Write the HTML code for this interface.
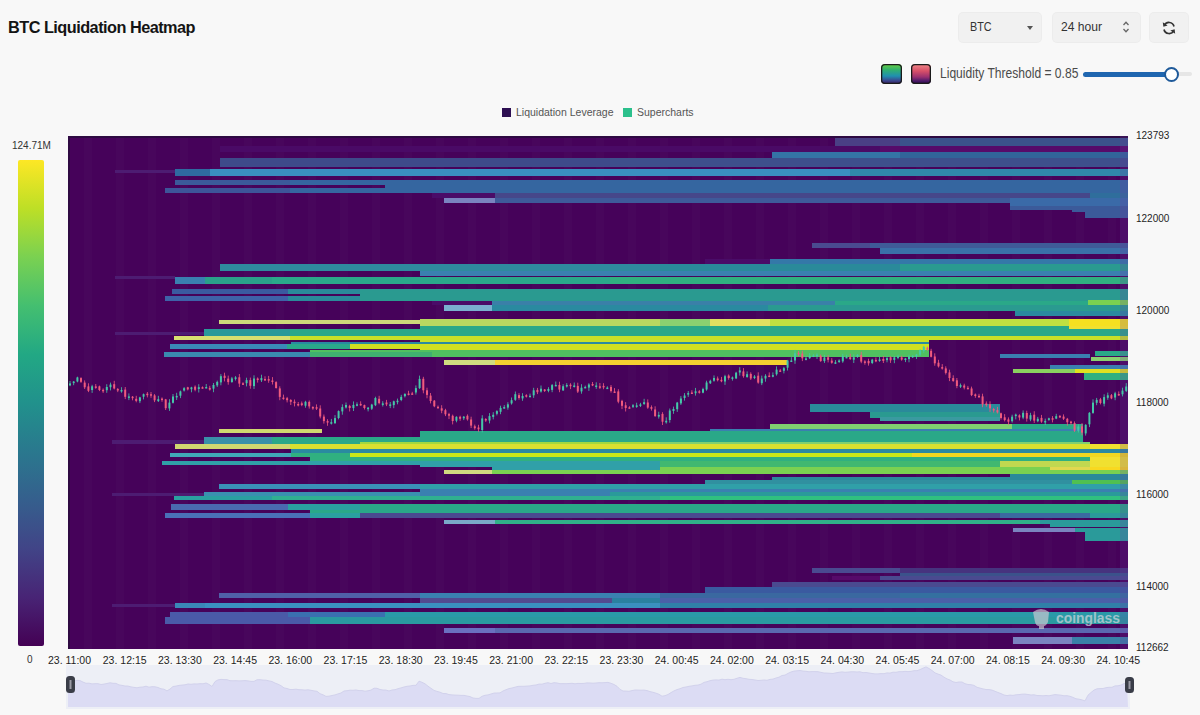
<!DOCTYPE html>
<html><head><meta charset="utf-8">
<style>
html,body{margin:0;padding:0;}
body{width:1200px;height:715px;background:#f8f8f8;position:relative;overflow:hidden;font-family:"Liberation Sans",sans-serif;}
.abs{position:absolute;}
.title{left:8px;top:17.6px;font-size:16.3px;font-weight:bold;color:#141414;letter-spacing:-0.52px;white-space:nowrap;}
.btn{background:#f1f1f1;border-radius:4px;box-shadow:0 0 0 1px #ececec;}
.btxt{font-size:13px;color:#333;top:8px;}
.ylab{font-size:10px;color:#1e1e1e;left:1136px;line-height:12px;}
.xlab{font-size:10.5px;color:#1e1e1e;top:654px;white-space:nowrap;width:80px;margin-left:-40px;text-align:center;}
</style></head><body>
<div class="abs title">BTC Liquidation Heatmap</div>
<div class="abs btn" style="left:959px;top:13px;width:82px;height:29px;"><span class="abs btxt" style="left:11px;top:5.5px;font-size:13.5px;transform:scaleX(0.8);transform-origin:0 0;">BTC</span><span class="abs" style="left:68px;top:13px;width:0;height:0;border-left:3.5px solid transparent;border-right:3.5px solid transparent;border-top:4px solid #555;"></span></div>
<div class="abs btn" style="left:1053px;top:13px;width:87px;height:29px;"><span class="abs btxt" style="left:8px;top:5.8px;font-size:13.3px;transform:scaleX(0.91);transform-origin:0 0;">24 hour</span>
<svg class="abs" style="left:68px;top:6.5px" width="10" height="14" viewBox="0 0 10 14"><path d="M2.5 5 L5 2.3 L7.5 5 M2.5 9 L5 11.7 L7.5 9" fill="none" stroke="#666" stroke-width="1.3"/></svg></div>
<div class="abs btn" style="left:1150px;top:13px;width:38px;height:29px;">
<svg class="abs" style="left:11px;top:7px" width="16" height="16" viewBox="0 0 16 16"><path d="M13 6.5 A5.2 5.2 0 0 0 3.2 5.5" fill="none" stroke="#333" stroke-width="1.7"/><path d="M3 9.5 A5.2 5.2 0 0 0 12.8 10.5" fill="none" stroke="#333" stroke-width="1.7"/><path d="M1.8 2.3 L2.4 6.8 L6.6 5.4 Z" fill="#333"/><path d="M14.2 13.7 L13.6 9.2 L9.4 10.6 Z" fill="#333"/></svg></div>
<div class="abs" style="left:881px;top:64px;width:21px;height:20px;border-radius:4px;background:linear-gradient(#6ad040,#30b070 30%,#2090b0 60%,#3a4a90 82%,#3a1a5a);box-shadow:0 0 0 1.3px #1a1a1a inset;"></div>
<div class="abs" style="left:911px;top:64px;width:20px;height:20px;border-radius:4px;background:linear-gradient(#f08a8a,#d85068 35%,#9a3070 65%,#4a1a6a 85%,#2a0a40);box-shadow:0 0 0 1.3px #1a1a1a inset;"></div>
<div class="abs" style="left:940px;top:65.5px;font-size:13.8px;color:#4a4a4a;transform:scaleX(0.875);transform-origin:0 0;white-space:nowrap;">Liquidity Threshold = 0.85</div>
<div class="abs" style="left:1173px;top:72px;width:19px;height:4px;border-radius:2px;background:#e6e6e6;"></div>
<div class="abs" style="left:1083px;top:72px;width:90px;height:5px;border-radius:3px;background:#1f66b0;"></div>
<div class="abs" style="left:1164px;top:67px;width:11px;height:11px;border-radius:50%;background:#fff;border:2px solid #1f5a9a;"></div>
<div class="abs" style="left:502px;top:108px;width:9px;height:9px;background:#2d0f52;"></div>
<div class="abs" style="left:516px;top:106px;font-size:10.5px;color:#555;">Liquidation Leverage</div>
<div class="abs" style="left:623px;top:108px;width:9px;height:9px;background:#2cc08c;"></div>
<div class="abs" style="left:637px;top:106px;font-size:10.5px;color:#555;">Supercharts</div>
<div class="abs" style="left:12px;top:140px;font-size:10px;color:#333;">124.71M</div>
<div class="abs" style="left:18px;top:160px;width:26px;height:486px;border-radius:2px;background:linear-gradient(#fde725,#bddf26 10%,#7ad151 20%,#44bf70 30%,#22a884 40%,#21918c 50%,#2a788e 60%,#355f8d 70%,#414487 80%,#482475 90%,#440154);"></div>
<div class="abs" style="left:27px;top:654px;font-size:10px;color:#333;">0</div>

<svg class="abs" style="left:0;top:0" width="1200" height="715" shape-rendering="crispEdges">
<rect x="68" y="136" width="1060" height="513" fill="#46025a"/>
<rect x="84" y="136" width="8" height="513" fill="#4a0a5e" opacity="0.5"/>
<rect x="116" y="136" width="8" height="513" fill="#4a0a5e" opacity="0.5"/>
<rect x="148" y="136" width="8" height="513" fill="#4a0a5e" opacity="0.5"/>
<rect x="180" y="136" width="8" height="513" fill="#4a0a5e" opacity="0.5"/>
<rect x="212" y="136" width="8" height="513" fill="#4a0a5e" opacity="0.5"/>
<rect x="244" y="136" width="8" height="513" fill="#4a0a5e" opacity="0.5"/>
<rect x="276" y="136" width="8" height="513" fill="#4a0a5e" opacity="0.5"/>
<rect x="308" y="136" width="8" height="513" fill="#4a0a5e" opacity="0.5"/>
<rect x="340" y="136" width="8" height="513" fill="#4a0a5e" opacity="0.5"/>
<rect x="372" y="136" width="8" height="513" fill="#4a0a5e" opacity="0.5"/>
<rect x="404" y="136" width="8" height="513" fill="#4a0a5e" opacity="0.5"/>
<rect x="436" y="136" width="8" height="513" fill="#4a0a5e" opacity="0.5"/>
<rect x="468" y="136" width="8" height="513" fill="#4a0a5e" opacity="0.5"/>
<rect x="500" y="136" width="8" height="513" fill="#4a0a5e" opacity="0.5"/>
<rect x="532" y="136" width="8" height="513" fill="#4a0a5e" opacity="0.5"/>
<rect x="564" y="136" width="8" height="513" fill="#4a0a5e" opacity="0.5"/>
<rect x="596" y="136" width="8" height="513" fill="#4a0a5e" opacity="0.5"/>
<rect x="628" y="136" width="8" height="513" fill="#4a0a5e" opacity="0.5"/>
<rect x="660" y="136" width="8" height="513" fill="#4a0a5e" opacity="0.5"/>
<rect x="692" y="136" width="8" height="513" fill="#4a0a5e" opacity="0.5"/>
<rect x="724" y="136" width="8" height="513" fill="#4a0a5e" opacity="0.5"/>
<rect x="756" y="136" width="8" height="513" fill="#4a0a5e" opacity="0.5"/>
<rect x="788" y="136" width="8" height="513" fill="#4a0a5e" opacity="0.5"/>
<rect x="820" y="136" width="8" height="513" fill="#4a0a5e" opacity="0.5"/>
<rect x="852" y="136" width="8" height="513" fill="#4a0a5e" opacity="0.5"/>
<rect x="884" y="136" width="8" height="513" fill="#4a0a5e" opacity="0.5"/>
<rect x="916" y="136" width="8" height="513" fill="#4a0a5e" opacity="0.5"/>
<rect x="948" y="136" width="8" height="513" fill="#4a0a5e" opacity="0.5"/>
<rect x="980" y="136" width="8" height="513" fill="#4a0a5e" opacity="0.5"/>
<rect x="1012" y="136" width="8" height="513" fill="#4a0a5e" opacity="0.5"/>
<rect x="1044" y="136" width="8" height="513" fill="#4a0a5e" opacity="0.5"/>
<rect x="1076" y="136" width="8" height="513" fill="#4a0a5e" opacity="0.5"/>
<rect x="1108" y="136" width="8" height="513" fill="#4a0a5e" opacity="0.5"/>
<rect x="835" y="136" width="293" height="2" fill="#5a5a8a"/>
<rect x="835" y="138" width="65" height="8" fill="#4a3f85"/>
<rect x="900" y="138" width="228" height="8" fill="#3b528b"/>
<rect x="220" y="146" width="660" height="6" fill="#4a0a66"/>
<rect x="880" y="146" width="248" height="6" fill="#560a6a"/>
<rect x="772" y="152" width="128" height="6" fill="#3474a6"/>
<rect x="900" y="152" width="228" height="6" fill="#31649a"/>
<rect x="220" y="158" width="390" height="9" fill="#3e4a8a"/>
<rect x="610" y="158" width="518" height="9" fill="#3e4f8c"/>
<rect x="115" y="170" width="60" height="3" fill="#4d1c72"/>
<rect x="175" y="169" width="35" height="7" fill="#2f6aa0"/>
<rect x="210" y="169" width="640" height="7" fill="#3a8fc0"/>
<rect x="850" y="169" width="278" height="7" fill="#3088aa"/>
<rect x="175" y="180" width="115" height="5" fill="#3b5a9a"/>
<rect x="290" y="180" width="838" height="5" fill="#3566a0"/>
<rect x="385" y="185" width="743" height="3" fill="#3566a0"/>
<rect x="165" y="188" width="125" height="5" fill="#3d5599"/>
<rect x="290" y="188" width="838" height="5" fill="#3566a0"/>
<rect x="432" y="193" width="63" height="5" fill="#4a0c68"/>
<rect x="495" y="193" width="595" height="5" fill="#46478a"/>
<rect x="1090" y="193" width="38" height="5" fill="#2f6e9c"/>
<rect x="444" y="198" width="51" height="5" fill="#7a84c0"/>
<rect x="495" y="198" width="515" height="5" fill="#3e5a9a"/>
<rect x="1010" y="198" width="118" height="5" fill="#3a6aa8"/>
<rect x="1010" y="203" width="118" height="3" fill="#3a6aa8"/>
<rect x="1010" y="206" width="118" height="4" fill="#3b5a9a"/>
<rect x="1072" y="206" width="56" height="6" fill="#3b5a9a"/>
<rect x="1085" y="212" width="43" height="6" fill="#3b5a9a"/>
<rect x="812" y="243" width="58" height="5" fill="#4a4a90"/>
<rect x="870" y="243" width="258" height="5" fill="#3f5a98"/>
<rect x="880" y="248" width="248" height="6" fill="#3a70a8"/>
<rect x="705" y="259" width="65" height="5" fill="#4a0c68"/>
<rect x="770" y="259" width="358" height="5" fill="#3478a8"/>
<rect x="220" y="264" width="440" height="7" fill="#2f8a9e"/>
<rect x="660" y="264" width="240" height="7" fill="#2a8a9a"/>
<rect x="900" y="264" width="228" height="7" fill="#2a9a90"/>
<rect x="420" y="271" width="708" height="5" fill="#3a80b0"/>
<rect x="115" y="276" width="60" height="3" fill="#4d1c72"/>
<rect x="175" y="277" width="30" height="7" fill="#3a7fb0"/>
<rect x="205" y="277" width="67" height="7" fill="#2aa08a"/>
<rect x="272" y="277" width="338" height="7" fill="#2aa88a"/>
<rect x="610" y="277" width="518" height="7" fill="#30b080"/>
<rect x="172" y="289" width="116" height="5" fill="#3a5aa0"/>
<rect x="288" y="289" width="72" height="5" fill="#2a8a9a"/>
<rect x="360" y="289" width="768" height="5" fill="#2a9a90"/>
<rect x="360" y="294" width="768" height="2" fill="#2a9a90"/>
<rect x="165" y="296" width="123" height="5" fill="#3e62a8"/>
<rect x="288" y="296" width="72" height="5" fill="#2a8a9a"/>
<rect x="360" y="296" width="768" height="5" fill="#2a9a90"/>
<rect x="432" y="301" width="60" height="4" fill="#4a0c68"/>
<rect x="492" y="301" width="343" height="4" fill="#3a80a8"/>
<rect x="835" y="301" width="293" height="4" fill="#2aa888"/>
<rect x="1088" y="300" width="40" height="5" fill="#7ad151"/>
<rect x="444" y="305" width="48" height="6" fill="#7ab0d0"/>
<rect x="492" y="305" width="276" height="6" fill="#2a8aa0"/>
<rect x="768" y="305" width="360" height="6" fill="#2a9a90"/>
<rect x="1015" y="311" width="113" height="5" fill="#2a8aa0"/>
<rect x="219" y="320" width="441" height="4" fill="#cdd87a"/>
<rect x="660" y="320" width="50" height="4" fill="#8ad070"/>
<rect x="710" y="320" width="60" height="4" fill="#e0e060"/>
<rect x="770" y="320" width="299" height="4" fill="#c0e040"/>
<rect x="1069" y="320" width="59" height="4" fill="#f5e020"/>
<rect x="420" y="319" width="240" height="7" fill="#b8d860"/>
<rect x="660" y="319" width="50" height="7" fill="#8ad070"/>
<rect x="710" y="319" width="60" height="7" fill="#e0e060"/>
<rect x="770" y="319" width="299" height="7" fill="#c0e040"/>
<rect x="1069" y="319" width="59" height="7" fill="#f5e020"/>
<rect x="420" y="326" width="649" height="3" fill="#2aa888"/>
<rect x="1069" y="326" width="59" height="3" fill="#f0e030"/>
<rect x="115" y="332" width="89" height="3" fill="#4d1c72"/>
<rect x="204" y="329" width="86" height="7" fill="#2a9a9a"/>
<rect x="290" y="329" width="838" height="7" fill="#2aa888"/>
<rect x="174" y="336" width="116" height="4" fill="#d8e070"/>
<rect x="290" y="336" width="838" height="4" fill="#c8e028"/>
<rect x="420" y="340" width="509" height="2" fill="#c8e028"/>
<rect x="291" y="342" width="638" height="2" fill="#2a8aa0"/>
<rect x="170" y="344" width="117" height="5" fill="#3a8ab8"/>
<rect x="287" y="344" width="63" height="5" fill="#2aa88a"/>
<rect x="350" y="344" width="579" height="5" fill="#d0e020"/>
<rect x="420" y="349" width="509" height="1" fill="#d0e020"/>
<rect x="310" y="350" width="619" height="2" fill="#50c060"/>
<rect x="164" y="352" width="146" height="5" fill="#3a8ab0"/>
<rect x="310" y="352" width="122" height="5" fill="#40b070"/>
<rect x="432" y="352" width="497" height="5" fill="#50c060"/>
<rect x="444" y="360" width="51" height="5" fill="#d0dc80"/>
<rect x="495" y="360" width="292" height="5" fill="#f5d030"/>
<rect x="810" y="404" width="190" height="8" fill="#2a8a9a"/>
<rect x="870" y="412" width="130" height="6" fill="#2a9a90"/>
<rect x="880" y="417" width="120" height="4" fill="#3a9aa0"/>
<rect x="219" y="429" width="103" height="4" fill="#d0d870"/>
<rect x="770" y="424" width="242" height="5" fill="#80d070"/>
<rect x="1012" y="424" width="71" height="5" fill="#2aa888"/>
<rect x="710" y="429" width="373" height="2" fill="#3a80b0"/>
<rect x="420" y="431" width="663" height="6" fill="#2aa888"/>
<rect x="112" y="440" width="92" height="4" fill="#4d1c72"/>
<rect x="204" y="437" width="68" height="7" fill="#3a90a8"/>
<rect x="272" y="437" width="811" height="7" fill="#2aa888"/>
<rect x="360" y="442" width="300" height="2" fill="#a0d840"/>
<rect x="660" y="442" width="430" height="2" fill="#80d070"/>
<rect x="175" y="444" width="115" height="5" fill="#d0d870"/>
<rect x="290" y="444" width="800" height="5" fill="#d8e030"/>
<rect x="1090" y="444" width="38" height="5" fill="#f0e030"/>
<rect x="291" y="449" width="837" height="4" fill="#2a8aa0"/>
<rect x="170" y="453" width="121" height="4" fill="#40a8b8"/>
<rect x="291" y="453" width="59" height="4" fill="#30b080"/>
<rect x="350" y="453" width="562" height="4" fill="#c8e818"/>
<rect x="912" y="453" width="216" height="4" fill="#f0d820"/>
<rect x="310" y="457" width="780" height="4" fill="#30b080"/>
<rect x="1090" y="457" width="38" height="4" fill="#f0e030"/>
<rect x="162" y="461" width="498" height="4" fill="#30a0a8"/>
<rect x="660" y="461" width="340" height="4" fill="#40b870"/>
<rect x="1000" y="461" width="90" height="4" fill="#c0d850"/>
<rect x="1090" y="461" width="38" height="4" fill="#f0e030"/>
<rect x="420" y="465" width="240" height="2" fill="#30a0a8"/>
<rect x="660" y="465" width="340" height="2" fill="#40b870"/>
<rect x="1000" y="465" width="90" height="2" fill="#c0d850"/>
<rect x="1090" y="465" width="38" height="2" fill="#f0e030"/>
<rect x="492" y="467" width="168" height="4" fill="#30a0a8"/>
<rect x="660" y="467" width="390" height="4" fill="#7ad151"/>
<rect x="1050" y="467" width="40" height="4" fill="#e0d850"/>
<rect x="1090" y="467" width="38" height="4" fill="#f8d820"/>
<rect x="444" y="470" width="48" height="4" fill="#d0d880"/>
<rect x="492" y="470" width="636" height="4" fill="#7ad151"/>
<rect x="772" y="477" width="356" height="3" fill="#2a8a9a"/>
<rect x="1010" y="474" width="118" height="3" fill="#2a8a9a"/>
<rect x="705" y="480" width="367" height="4" fill="#3090a0"/>
<rect x="1072" y="480" width="56" height="4" fill="#50c050"/>
<rect x="219" y="484" width="201" height="5" fill="#3a90b8"/>
<rect x="420" y="484" width="708" height="5" fill="#30a0a8"/>
<rect x="420" y="489" width="708" height="3" fill="#3a80b0"/>
<rect x="112" y="493" width="92" height="3" fill="#4d1c72"/>
<rect x="204" y="492" width="216" height="4" fill="#3a90b0"/>
<rect x="420" y="492" width="190" height="4" fill="#3a80b0"/>
<rect x="610" y="492" width="518" height="4" fill="#2a9a9a"/>
<rect x="174" y="496" width="98" height="4" fill="#2aa0a0"/>
<rect x="272" y="496" width="388" height="4" fill="#30b090"/>
<rect x="660" y="496" width="468" height="4" fill="#30c080"/>
<rect x="171" y="504" width="117" height="6" fill="#4a6ab0"/>
<rect x="288" y="504" width="72" height="6" fill="#2aa0a0"/>
<rect x="360" y="504" width="768" height="6" fill="#2aa888"/>
<rect x="310" y="510" width="818" height="3" fill="#2aa888"/>
<rect x="165" y="513" width="145" height="5" fill="#4a70b8"/>
<rect x="310" y="513" width="50" height="5" fill="#2aa0a0"/>
<rect x="360" y="513" width="640" height="5" fill="#4a4a90"/>
<rect x="1000" y="513" width="90" height="5" fill="#3a6aa0"/>
<rect x="1090" y="513" width="38" height="5" fill="#2a9a9a"/>
<rect x="444" y="520" width="51" height="4" fill="#7aa8c8"/>
<rect x="495" y="520" width="545" height="4" fill="#30b088"/>
<rect x="1040" y="520" width="88" height="4" fill="#2a9a9a"/>
<rect x="1050" y="524" width="78" height="3" fill="#2a9a9a"/>
<rect x="1013" y="528" width="62" height="4" fill="#7a84c0"/>
<rect x="1075" y="528" width="53" height="4" fill="#2a9a9a"/>
<rect x="1085" y="532" width="43" height="9" fill="#2a9a9a"/>
<rect x="812" y="568" width="88" height="5" fill="#4a4a90"/>
<rect x="900" y="568" width="228" height="5" fill="#46337e"/>
<rect x="900" y="573" width="228" height="5" fill="#3b528b"/>
<rect x="832" y="576" width="48" height="4" fill="#560a6a"/>
<rect x="880" y="576" width="248" height="4" fill="#4a4a90"/>
<rect x="772" y="582" width="356" height="5" fill="#4a4a90"/>
<rect x="705" y="587" width="423" height="6" fill="#3a5aa0"/>
<rect x="219" y="593" width="201" height="5" fill="#5060a8"/>
<rect x="420" y="593" width="240" height="5" fill="#3a80b0"/>
<rect x="660" y="593" width="240" height="5" fill="#3a68a0"/>
<rect x="900" y="593" width="228" height="5" fill="#3470a0"/>
<rect x="420" y="598" width="192" height="5" fill="#524a90"/>
<rect x="612" y="598" width="48" height="5" fill="#2a80a0"/>
<rect x="660" y="598" width="468" height="5" fill="#4a60a8"/>
<rect x="112" y="604" width="63" height="3" fill="#4d1c72"/>
<rect x="175" y="603" width="30" height="5" fill="#3a88b8"/>
<rect x="205" y="603" width="455" height="5" fill="#3a90c0"/>
<rect x="660" y="603" width="468" height="5" fill="#3080a8"/>
<rect x="170" y="612" width="118" height="5" fill="#4a5aa8"/>
<rect x="288" y="612" width="97" height="5" fill="#3a70b0"/>
<rect x="385" y="612" width="743" height="5" fill="#2a9aa8"/>
<rect x="165" y="617" width="145" height="7" fill="#4a5aa8"/>
<rect x="310" y="617" width="818" height="7" fill="#2a9aa0"/>
<rect x="444" y="628" width="51" height="5" fill="#6a70c0"/>
<rect x="495" y="628" width="633" height="5" fill="#5a68b0"/>
<rect x="1013" y="637" width="59" height="7" fill="#7a84c0"/>
<rect x="1072" y="637" width="56" height="7" fill="#3a80a8"/>
<rect x="1095" y="351" width="33" height="5" fill="#2aa888"/>
<rect x="1000" y="354" width="90" height="4" fill="#3a80b0"/>
<rect x="1091" y="357" width="37" height="4" fill="#8ad070"/>
<rect x="1050" y="365" width="78" height="4" fill="#3a80b0"/>
<rect x="1013" y="369" width="62" height="4" fill="#8ad060"/>
<rect x="1075" y="369" width="53" height="4" fill="#e0e020"/>
<rect x="1084" y="373" width="44" height="7" fill="#30b080"/>
<rect x="68" y="136" width="1060" height="1.5" fill="#2e0a42"/>
<rect x="68" y="136" width="1.5" height="513" fill="#2e0a42"/>
<rect x="1120" y="136" width="8" height="513" fill="#6a3aa0" opacity="0.22"/>
</svg>
<svg class="abs" style="left:0;top:0" width="1200" height="715">
<rect x="69.6" y="381.0" width="0.8" height="5.2" fill="#45c8a8"/>
<rect x="69.0" y="383.4" width="2" height="2.0" fill="#45c8a8"/>
<rect x="73.3" y="381.0" width="0.8" height="4.2" fill="#45c8a8"/>
<rect x="72.7" y="381.6" width="2" height="1.5" fill="#45c8a8"/>
<rect x="77.0" y="376.7" width="0.8" height="5.6" fill="#45c8a8"/>
<rect x="76.4" y="377.4" width="2" height="4.1" fill="#45c8a8"/>
<rect x="80.6" y="377.2" width="0.8" height="5.7" fill="#f05a7e"/>
<rect x="80.0" y="378.1" width="2" height="3.7" fill="#f05a7e"/>
<rect x="84.3" y="380.4" width="0.8" height="8.6" fill="#f05a7e"/>
<rect x="83.7" y="382.6" width="2" height="4.7" fill="#f05a7e"/>
<rect x="88.0" y="383.3" width="0.8" height="8.8" fill="#f05a7e"/>
<rect x="87.4" y="386.4" width="2" height="4.4" fill="#f05a7e"/>
<rect x="91.7" y="384.8" width="0.8" height="8.1" fill="#45c8a8"/>
<rect x="91.1" y="386.3" width="2" height="3.7" fill="#45c8a8"/>
<rect x="95.4" y="384.0" width="0.8" height="4.8" fill="#f05a7e"/>
<rect x="94.8" y="386.4" width="2" height="1.5" fill="#f05a7e"/>
<rect x="99.0" y="385.6" width="0.8" height="5.5" fill="#f05a7e"/>
<rect x="98.4" y="386.3" width="2" height="3.7" fill="#f05a7e"/>
<rect x="102.7" y="388.4" width="0.8" height="4.5" fill="#f05a7e"/>
<rect x="102.1" y="389.8" width="2" height="1.5" fill="#f05a7e"/>
<rect x="106.4" y="384.2" width="0.8" height="8.6" fill="#45c8a8"/>
<rect x="105.8" y="387.0" width="2" height="3.2" fill="#45c8a8"/>
<rect x="110.1" y="382.6" width="0.8" height="7.8" fill="#45c8a8"/>
<rect x="109.5" y="384.6" width="2" height="2.6" fill="#45c8a8"/>
<rect x="113.8" y="380.8" width="0.8" height="8.6" fill="#f05a7e"/>
<rect x="113.2" y="384.2" width="2" height="4.3" fill="#f05a7e"/>
<rect x="117.4" y="388.0" width="0.8" height="4.1" fill="#f05a7e"/>
<rect x="116.8" y="389.0" width="2" height="1.5" fill="#f05a7e"/>
<rect x="121.1" y="387.2" width="0.8" height="5.5" fill="#45c8a8"/>
<rect x="120.5" y="390.0" width="2" height="1.5" fill="#45c8a8"/>
<rect x="124.8" y="387.0" width="0.8" height="12.1" fill="#f05a7e"/>
<rect x="124.2" y="389.6" width="2" height="7.2" fill="#f05a7e"/>
<rect x="128.5" y="393.4" width="0.8" height="6.7" fill="#45c8a8"/>
<rect x="127.9" y="396.4" width="2" height="1.5" fill="#45c8a8"/>
<rect x="132.2" y="396.0" width="0.8" height="4.3" fill="#f05a7e"/>
<rect x="131.6" y="396.7" width="2" height="1.5" fill="#f05a7e"/>
<rect x="135.8" y="395.8" width="0.8" height="6.5" fill="#f05a7e"/>
<rect x="135.2" y="398.8" width="2" height="2.1" fill="#f05a7e"/>
<rect x="139.5" y="396.8" width="0.8" height="6.3" fill="#45c8a8"/>
<rect x="138.9" y="397.4" width="2" height="3.8" fill="#45c8a8"/>
<rect x="143.2" y="393.5" width="0.8" height="5.9" fill="#45c8a8"/>
<rect x="142.6" y="394.2" width="2" height="2.5" fill="#45c8a8"/>
<rect x="146.9" y="392.0" width="0.8" height="5.4" fill="#f05a7e"/>
<rect x="146.3" y="393.7" width="2" height="1.5" fill="#f05a7e"/>
<rect x="150.6" y="392.0" width="0.8" height="5.8" fill="#f05a7e"/>
<rect x="150.0" y="394.2" width="2" height="1.5" fill="#f05a7e"/>
<rect x="154.2" y="394.1" width="0.8" height="8.0" fill="#f05a7e"/>
<rect x="153.6" y="395.4" width="2" height="4.9" fill="#f05a7e"/>
<rect x="157.9" y="395.8" width="0.8" height="6.2" fill="#45c8a8"/>
<rect x="157.3" y="399.2" width="2" height="1.9" fill="#45c8a8"/>
<rect x="161.6" y="397.4" width="0.8" height="4.4" fill="#f05a7e"/>
<rect x="161.0" y="398.6" width="2" height="1.5" fill="#f05a7e"/>
<rect x="165.3" y="398.9" width="0.8" height="11.1" fill="#f05a7e"/>
<rect x="164.7" y="399.4" width="2" height="8.8" fill="#f05a7e"/>
<rect x="169.0" y="399.2" width="0.8" height="11.7" fill="#45c8a8"/>
<rect x="168.4" y="402.6" width="2" height="5.8" fill="#45c8a8"/>
<rect x="172.6" y="394.0" width="0.8" height="9.5" fill="#45c8a8"/>
<rect x="172.0" y="396.5" width="2" height="6.3" fill="#45c8a8"/>
<rect x="176.3" y="392.8" width="0.8" height="7.2" fill="#45c8a8"/>
<rect x="175.7" y="395.9" width="2" height="1.5" fill="#45c8a8"/>
<rect x="180.0" y="390.6" width="0.8" height="7.5" fill="#45c8a8"/>
<rect x="179.4" y="391.4" width="2" height="4.3" fill="#45c8a8"/>
<rect x="183.7" y="387.1" width="0.8" height="4.4" fill="#45c8a8"/>
<rect x="183.1" y="388.2" width="2" height="2.3" fill="#45c8a8"/>
<rect x="187.4" y="386.8" width="0.8" height="3.6" fill="#f05a7e"/>
<rect x="186.8" y="387.3" width="2" height="2.1" fill="#f05a7e"/>
<rect x="191.0" y="386.8" width="0.8" height="5.5" fill="#45c8a8"/>
<rect x="190.4" y="387.4" width="2" height="1.8" fill="#45c8a8"/>
<rect x="194.7" y="385.4" width="0.8" height="5.9" fill="#f05a7e"/>
<rect x="194.1" y="386.7" width="2" height="3.1" fill="#f05a7e"/>
<rect x="198.4" y="384.2" width="0.8" height="8.3" fill="#45c8a8"/>
<rect x="197.8" y="387.2" width="2" height="1.8" fill="#45c8a8"/>
<rect x="202.1" y="386.4" width="0.8" height="2.2" fill="#f05a7e"/>
<rect x="201.5" y="387.2" width="2" height="1.5" fill="#f05a7e"/>
<rect x="205.8" y="384.0" width="0.8" height="4.3" fill="#45c8a8"/>
<rect x="205.2" y="387.0" width="2" height="1.5" fill="#45c8a8"/>
<rect x="209.4" y="385.8" width="0.8" height="4.8" fill="#f05a7e"/>
<rect x="208.8" y="387.9" width="2" height="1.7" fill="#f05a7e"/>
<rect x="213.1" y="383.0" width="0.8" height="9.2" fill="#45c8a8"/>
<rect x="212.5" y="385.0" width="2" height="3.6" fill="#45c8a8"/>
<rect x="216.8" y="380.6" width="0.8" height="6.4" fill="#45c8a8"/>
<rect x="216.2" y="381.9" width="2" height="3.5" fill="#45c8a8"/>
<rect x="220.5" y="374.1" width="0.8" height="11.2" fill="#45c8a8"/>
<rect x="219.9" y="376.2" width="2" height="6.2" fill="#45c8a8"/>
<rect x="224.2" y="372.7" width="0.8" height="8.7" fill="#f05a7e"/>
<rect x="223.6" y="375.7" width="2" height="2.3" fill="#f05a7e"/>
<rect x="227.8" y="375.6" width="0.8" height="9.1" fill="#f05a7e"/>
<rect x="227.2" y="378.6" width="2" height="3.5" fill="#f05a7e"/>
<rect x="231.5" y="376.9" width="0.8" height="5.8" fill="#45c8a8"/>
<rect x="230.9" y="378.4" width="2" height="3.7" fill="#45c8a8"/>
<rect x="235.2" y="376.1" width="0.8" height="4.4" fill="#45c8a8"/>
<rect x="234.6" y="377.4" width="2" height="1.5" fill="#45c8a8"/>
<rect x="238.9" y="374.0" width="0.8" height="13.1" fill="#f05a7e"/>
<rect x="238.3" y="377.3" width="2" height="6.3" fill="#f05a7e"/>
<rect x="242.6" y="382.2" width="0.8" height="2.8" fill="#f05a7e"/>
<rect x="242.0" y="383.3" width="2" height="1.5" fill="#f05a7e"/>
<rect x="246.2" y="377.7" width="0.8" height="8.7" fill="#45c8a8"/>
<rect x="245.6" y="380.1" width="2" height="3.1" fill="#45c8a8"/>
<rect x="249.9" y="377.6" width="0.8" height="11.1" fill="#f05a7e"/>
<rect x="249.3" y="380.1" width="2" height="5.7" fill="#f05a7e"/>
<rect x="253.6" y="375.3" width="0.8" height="13.7" fill="#45c8a8"/>
<rect x="253.0" y="378.5" width="2" height="7.6" fill="#45c8a8"/>
<rect x="257.3" y="377.4" width="0.8" height="5.2" fill="#f05a7e"/>
<rect x="256.7" y="378.5" width="2" height="1.5" fill="#f05a7e"/>
<rect x="261.0" y="374.7" width="0.8" height="7.3" fill="#45c8a8"/>
<rect x="260.4" y="378.1" width="2" height="2.2" fill="#45c8a8"/>
<rect x="264.6" y="376.3" width="0.8" height="4.5" fill="#f05a7e"/>
<rect x="264.0" y="379.0" width="2" height="1.5" fill="#f05a7e"/>
<rect x="268.3" y="375.9" width="0.8" height="6.9" fill="#f05a7e"/>
<rect x="267.7" y="379.1" width="2" height="1.5" fill="#f05a7e"/>
<rect x="272.0" y="377.1" width="0.8" height="7.4" fill="#f05a7e"/>
<rect x="271.4" y="380.5" width="2" height="1.5" fill="#f05a7e"/>
<rect x="275.7" y="381.2" width="0.8" height="7.4" fill="#f05a7e"/>
<rect x="275.1" y="382.1" width="2" height="5.9" fill="#f05a7e"/>
<rect x="279.4" y="386.3" width="0.8" height="13.9" fill="#f05a7e"/>
<rect x="278.8" y="388.4" width="2" height="8.5" fill="#f05a7e"/>
<rect x="283.0" y="394.6" width="0.8" height="5.1" fill="#f05a7e"/>
<rect x="282.4" y="397.6" width="2" height="1.5" fill="#f05a7e"/>
<rect x="286.7" y="396.9" width="0.8" height="5.5" fill="#f05a7e"/>
<rect x="286.1" y="398.2" width="2" height="2.0" fill="#f05a7e"/>
<rect x="290.4" y="399.1" width="0.8" height="5.9" fill="#f05a7e"/>
<rect x="289.8" y="400.0" width="2" height="1.8" fill="#f05a7e"/>
<rect x="294.1" y="399.5" width="0.8" height="6.9" fill="#f05a7e"/>
<rect x="293.5" y="401.7" width="2" height="1.5" fill="#f05a7e"/>
<rect x="297.8" y="402.0" width="0.8" height="4.4" fill="#f05a7e"/>
<rect x="297.2" y="404.0" width="2" height="1.5" fill="#f05a7e"/>
<rect x="301.4" y="401.5" width="0.8" height="4.7" fill="#f05a7e"/>
<rect x="300.8" y="403.3" width="2" height="1.8" fill="#f05a7e"/>
<rect x="305.1" y="400.8" width="0.8" height="6.9" fill="#45c8a8"/>
<rect x="304.5" y="401.8" width="2" height="3.9" fill="#45c8a8"/>
<rect x="308.8" y="400.5" width="0.8" height="8.1" fill="#f05a7e"/>
<rect x="308.2" y="401.9" width="2" height="4.5" fill="#f05a7e"/>
<rect x="312.5" y="406.2" width="0.8" height="3.6" fill="#f05a7e"/>
<rect x="311.9" y="407.0" width="2" height="1.5" fill="#f05a7e"/>
<rect x="316.2" y="404.4" width="0.8" height="5.6" fill="#f05a7e"/>
<rect x="315.6" y="407.2" width="2" height="1.5" fill="#f05a7e"/>
<rect x="319.8" y="405.3" width="0.8" height="13.1" fill="#f05a7e"/>
<rect x="319.2" y="408.5" width="2" height="8.0" fill="#f05a7e"/>
<rect x="323.5" y="414.5" width="0.8" height="9.1" fill="#f05a7e"/>
<rect x="322.9" y="416.6" width="2" height="4.5" fill="#f05a7e"/>
<rect x="327.2" y="419.2" width="0.8" height="6.6" fill="#f05a7e"/>
<rect x="326.6" y="421.1" width="2" height="1.5" fill="#f05a7e"/>
<rect x="330.9" y="418.9" width="0.8" height="5.6" fill="#45c8a8"/>
<rect x="330.3" y="422.2" width="2" height="1.5" fill="#45c8a8"/>
<rect x="334.6" y="415.1" width="0.8" height="8.9" fill="#45c8a8"/>
<rect x="334.0" y="418.1" width="2" height="5.0" fill="#45c8a8"/>
<rect x="338.2" y="410.4" width="0.8" height="8.9" fill="#45c8a8"/>
<rect x="337.6" y="411.1" width="2" height="6.9" fill="#45c8a8"/>
<rect x="341.9" y="404.3" width="0.8" height="10.4" fill="#45c8a8"/>
<rect x="341.3" y="407.1" width="2" height="4.3" fill="#45c8a8"/>
<rect x="345.6" y="402.5" width="0.8" height="6.0" fill="#45c8a8"/>
<rect x="345.0" y="405.0" width="2" height="2.5" fill="#45c8a8"/>
<rect x="349.3" y="404.8" width="0.8" height="6.7" fill="#f05a7e"/>
<rect x="348.7" y="405.9" width="2" height="2.1" fill="#f05a7e"/>
<rect x="353.0" y="401.4" width="0.8" height="9.6" fill="#45c8a8"/>
<rect x="352.4" y="404.9" width="2" height="3.2" fill="#45c8a8"/>
<rect x="356.6" y="402.3" width="0.8" height="4.0" fill="#45c8a8"/>
<rect x="356.0" y="404.3" width="2" height="1.5" fill="#45c8a8"/>
<rect x="360.3" y="401.3" width="0.8" height="4.5" fill="#f05a7e"/>
<rect x="359.7" y="403.9" width="2" height="1.5" fill="#f05a7e"/>
<rect x="364.0" y="404.6" width="0.8" height="4.9" fill="#f05a7e"/>
<rect x="363.4" y="405.1" width="2" height="2.9" fill="#f05a7e"/>
<rect x="367.7" y="407.0" width="0.8" height="4.4" fill="#45c8a8"/>
<rect x="367.1" y="407.7" width="2" height="1.5" fill="#45c8a8"/>
<rect x="371.4" y="403.8" width="0.8" height="6.2" fill="#45c8a8"/>
<rect x="370.8" y="404.6" width="2" height="4.1" fill="#45c8a8"/>
<rect x="375.0" y="396.7" width="0.8" height="9.4" fill="#45c8a8"/>
<rect x="374.4" y="398.0" width="2" height="7.2" fill="#45c8a8"/>
<rect x="378.7" y="395.8" width="0.8" height="8.5" fill="#f05a7e"/>
<rect x="378.1" y="398.8" width="2" height="4.3" fill="#f05a7e"/>
<rect x="382.4" y="401.2" width="0.8" height="5.3" fill="#45c8a8"/>
<rect x="381.8" y="403.4" width="2" height="1.5" fill="#45c8a8"/>
<rect x="386.1" y="399.9" width="0.8" height="6.2" fill="#f05a7e"/>
<rect x="385.5" y="402.5" width="2" height="1.9" fill="#f05a7e"/>
<rect x="389.8" y="402.0" width="0.8" height="6.1" fill="#45c8a8"/>
<rect x="389.2" y="404.4" width="2" height="1.5" fill="#45c8a8"/>
<rect x="393.4" y="400.6" width="0.8" height="7.6" fill="#45c8a8"/>
<rect x="392.8" y="401.3" width="2" height="3.8" fill="#45c8a8"/>
<rect x="397.1" y="398.6" width="0.8" height="5.7" fill="#45c8a8"/>
<rect x="396.5" y="400.7" width="2" height="1.5" fill="#45c8a8"/>
<rect x="400.8" y="394.8" width="0.8" height="6.4" fill="#45c8a8"/>
<rect x="400.2" y="396.9" width="2" height="3.1" fill="#45c8a8"/>
<rect x="404.5" y="393.3" width="0.8" height="4.1" fill="#45c8a8"/>
<rect x="403.9" y="393.9" width="2" height="2.3" fill="#45c8a8"/>
<rect x="408.2" y="390.8" width="0.8" height="4.6" fill="#f05a7e"/>
<rect x="407.6" y="393.5" width="2" height="1.5" fill="#f05a7e"/>
<rect x="411.8" y="391.8" width="0.8" height="2.2" fill="#f05a7e"/>
<rect x="411.2" y="393.4" width="2" height="1.5" fill="#f05a7e"/>
<rect x="415.5" y="385.4" width="0.8" height="9.2" fill="#45c8a8"/>
<rect x="414.9" y="388.1" width="2" height="4.4" fill="#45c8a8"/>
<rect x="419.2" y="375.6" width="0.8" height="13.3" fill="#45c8a8"/>
<rect x="418.6" y="378.9" width="2" height="9.2" fill="#45c8a8"/>
<rect x="422.9" y="376.8" width="0.8" height="16.5" fill="#f05a7e"/>
<rect x="422.3" y="378.8" width="2" height="11.5" fill="#f05a7e"/>
<rect x="426.6" y="387.7" width="0.8" height="10.6" fill="#f05a7e"/>
<rect x="426.0" y="390.3" width="2" height="4.6" fill="#f05a7e"/>
<rect x="430.2" y="393.0" width="0.8" height="10.4" fill="#f05a7e"/>
<rect x="429.6" y="395.6" width="2" height="5.4" fill="#f05a7e"/>
<rect x="433.9" y="400.0" width="0.8" height="7.2" fill="#f05a7e"/>
<rect x="433.3" y="400.7" width="2" height="5.6" fill="#f05a7e"/>
<rect x="437.6" y="405.5" width="0.8" height="3.1" fill="#f05a7e"/>
<rect x="437.0" y="406.8" width="2" height="1.5" fill="#f05a7e"/>
<rect x="441.3" y="405.2" width="0.8" height="8.0" fill="#f05a7e"/>
<rect x="440.7" y="408.3" width="2" height="2.4" fill="#f05a7e"/>
<rect x="445.0" y="408.8" width="0.8" height="7.3" fill="#f05a7e"/>
<rect x="444.4" y="410.2" width="2" height="4.1" fill="#f05a7e"/>
<rect x="448.6" y="412.8" width="0.8" height="6.3" fill="#f05a7e"/>
<rect x="448.0" y="414.1" width="2" height="1.6" fill="#f05a7e"/>
<rect x="452.3" y="414.6" width="0.8" height="9.8" fill="#f05a7e"/>
<rect x="451.7" y="415.8" width="2" height="5.2" fill="#f05a7e"/>
<rect x="456.0" y="416.3" width="0.8" height="6.0" fill="#45c8a8"/>
<rect x="455.4" y="416.8" width="2" height="3.9" fill="#45c8a8"/>
<rect x="459.7" y="415.7" width="0.8" height="5.1" fill="#f05a7e"/>
<rect x="459.1" y="416.8" width="2" height="2.0" fill="#f05a7e"/>
<rect x="463.4" y="416.0" width="0.8" height="4.1" fill="#45c8a8"/>
<rect x="462.8" y="416.7" width="2" height="1.6" fill="#45c8a8"/>
<rect x="467.0" y="414.4" width="0.8" height="6.2" fill="#f05a7e"/>
<rect x="466.4" y="415.8" width="2" height="3.6" fill="#f05a7e"/>
<rect x="470.7" y="416.7" width="0.8" height="11.3" fill="#f05a7e"/>
<rect x="470.1" y="419.5" width="2" height="6.1" fill="#f05a7e"/>
<rect x="474.4" y="424.6" width="0.8" height="5.1" fill="#f05a7e"/>
<rect x="473.8" y="426.3" width="2" height="1.9" fill="#f05a7e"/>
<rect x="478.1" y="424.8" width="0.8" height="6.9" fill="#f05a7e"/>
<rect x="477.5" y="427.5" width="2" height="1.8" fill="#f05a7e"/>
<rect x="481.8" y="415.2" width="0.8" height="17.2" fill="#45c8a8"/>
<rect x="481.2" y="418.4" width="2" height="11.6" fill="#45c8a8"/>
<rect x="485.4" y="418.1" width="0.8" height="3.8" fill="#f05a7e"/>
<rect x="484.8" y="419.0" width="2" height="1.5" fill="#f05a7e"/>
<rect x="489.1" y="413.1" width="0.8" height="10.3" fill="#45c8a8"/>
<rect x="488.5" y="416.1" width="2" height="4.4" fill="#45c8a8"/>
<rect x="492.8" y="412.2" width="0.8" height="7.2" fill="#45c8a8"/>
<rect x="492.2" y="414.8" width="2" height="2.1" fill="#45c8a8"/>
<rect x="496.5" y="410.2" width="0.8" height="5.2" fill="#45c8a8"/>
<rect x="495.9" y="411.1" width="2" height="2.7" fill="#45c8a8"/>
<rect x="500.2" y="405.7" width="0.8" height="8.5" fill="#45c8a8"/>
<rect x="499.6" y="407.9" width="2" height="3.9" fill="#45c8a8"/>
<rect x="503.8" y="405.1" width="0.8" height="3.6" fill="#45c8a8"/>
<rect x="503.2" y="407.1" width="2" height="1.5" fill="#45c8a8"/>
<rect x="507.5" y="402.2" width="0.8" height="7.5" fill="#45c8a8"/>
<rect x="506.9" y="404.3" width="2" height="3.3" fill="#45c8a8"/>
<rect x="511.2" y="397.5" width="0.8" height="7.1" fill="#45c8a8"/>
<rect x="510.6" y="400.2" width="2" height="3.2" fill="#45c8a8"/>
<rect x="514.9" y="391.5" width="0.8" height="9.4" fill="#45c8a8"/>
<rect x="514.3" y="394.2" width="2" height="5.6" fill="#45c8a8"/>
<rect x="518.6" y="393.1" width="0.8" height="6.6" fill="#f05a7e"/>
<rect x="518.0" y="395.1" width="2" height="2.9" fill="#f05a7e"/>
<rect x="522.2" y="393.2" width="0.8" height="7.6" fill="#45c8a8"/>
<rect x="521.6" y="396.0" width="2" height="2.4" fill="#45c8a8"/>
<rect x="525.9" y="394.2" width="0.8" height="3.3" fill="#f05a7e"/>
<rect x="525.3" y="395.2" width="2" height="1.5" fill="#f05a7e"/>
<rect x="529.6" y="393.6" width="0.8" height="2.8" fill="#45c8a8"/>
<rect x="529.0" y="395.8" width="2" height="1.5" fill="#45c8a8"/>
<rect x="533.3" y="387.8" width="0.8" height="10.1" fill="#45c8a8"/>
<rect x="532.7" y="390.3" width="2" height="5.0" fill="#45c8a8"/>
<rect x="537.0" y="387.9" width="0.8" height="6.2" fill="#f05a7e"/>
<rect x="536.4" y="389.9" width="2" height="2.3" fill="#f05a7e"/>
<rect x="540.6" y="385.5" width="0.8" height="7.1" fill="#45c8a8"/>
<rect x="540.0" y="388.7" width="2" height="2.8" fill="#45c8a8"/>
<rect x="544.3" y="389.0" width="0.8" height="3.0" fill="#f05a7e"/>
<rect x="543.7" y="389.5" width="2" height="1.5" fill="#f05a7e"/>
<rect x="548.0" y="387.2" width="0.8" height="5.1" fill="#45c8a8"/>
<rect x="547.4" y="389.0" width="2" height="1.9" fill="#45c8a8"/>
<rect x="551.7" y="384.0" width="0.8" height="8.2" fill="#45c8a8"/>
<rect x="551.1" y="385.1" width="2" height="4.8" fill="#45c8a8"/>
<rect x="555.4" y="381.5" width="0.8" height="4.6" fill="#45c8a8"/>
<rect x="554.8" y="384.9" width="2" height="1.5" fill="#45c8a8"/>
<rect x="559.0" y="381.7" width="0.8" height="10.5" fill="#f05a7e"/>
<rect x="558.4" y="384.9" width="2" height="4.7" fill="#f05a7e"/>
<rect x="562.7" y="384.2" width="0.8" height="6.7" fill="#45c8a8"/>
<rect x="562.1" y="386.2" width="2" height="4.2" fill="#45c8a8"/>
<rect x="566.4" y="383.1" width="0.8" height="4.4" fill="#45c8a8"/>
<rect x="565.8" y="385.0" width="2" height="1.5" fill="#45c8a8"/>
<rect x="570.1" y="383.2" width="0.8" height="5.9" fill="#f05a7e"/>
<rect x="569.5" y="384.7" width="2" height="1.5" fill="#f05a7e"/>
<rect x="573.8" y="382.5" width="0.8" height="5.0" fill="#45c8a8"/>
<rect x="573.2" y="385.5" width="2" height="1.5" fill="#45c8a8"/>
<rect x="577.4" y="382.7" width="0.8" height="10.3" fill="#f05a7e"/>
<rect x="576.8" y="385.9" width="2" height="5.7" fill="#f05a7e"/>
<rect x="581.1" y="384.2" width="0.8" height="9.5" fill="#45c8a8"/>
<rect x="580.5" y="387.7" width="2" height="3.7" fill="#45c8a8"/>
<rect x="584.8" y="385.6" width="0.8" height="2.6" fill="#45c8a8"/>
<rect x="584.2" y="386.9" width="2" height="1.5" fill="#45c8a8"/>
<rect x="588.5" y="383.2" width="0.8" height="7.7" fill="#45c8a8"/>
<rect x="587.9" y="384.5" width="2" height="3.1" fill="#45c8a8"/>
<rect x="592.2" y="382.0" width="0.8" height="4.1" fill="#f05a7e"/>
<rect x="591.6" y="384.0" width="2" height="1.5" fill="#f05a7e"/>
<rect x="595.8" y="382.3" width="0.8" height="6.6" fill="#45c8a8"/>
<rect x="595.2" y="385.5" width="2" height="1.5" fill="#45c8a8"/>
<rect x="599.5" y="383.0" width="0.8" height="6.0" fill="#f05a7e"/>
<rect x="598.9" y="386.3" width="2" height="1.5" fill="#f05a7e"/>
<rect x="603.2" y="383.2" width="0.8" height="6.0" fill="#f05a7e"/>
<rect x="602.6" y="385.9" width="2" height="1.5" fill="#f05a7e"/>
<rect x="606.9" y="386.3" width="0.8" height="2.1" fill="#45c8a8"/>
<rect x="606.3" y="387.6" width="2" height="1.5" fill="#45c8a8"/>
<rect x="610.6" y="385.0" width="0.8" height="7.6" fill="#f05a7e"/>
<rect x="610.0" y="386.9" width="2" height="4.2" fill="#f05a7e"/>
<rect x="614.2" y="388.1" width="0.8" height="4.9" fill="#f05a7e"/>
<rect x="613.6" y="391.5" width="2" height="1.5" fill="#f05a7e"/>
<rect x="617.9" y="389.2" width="0.8" height="14.1" fill="#f05a7e"/>
<rect x="617.3" y="391.4" width="2" height="10.3" fill="#f05a7e"/>
<rect x="621.6" y="399.8" width="0.8" height="9.3" fill="#f05a7e"/>
<rect x="621.0" y="400.9" width="2" height="4.9" fill="#f05a7e"/>
<rect x="625.3" y="402.1" width="0.8" height="9.4" fill="#f05a7e"/>
<rect x="624.7" y="405.3" width="2" height="2.7" fill="#f05a7e"/>
<rect x="629.0" y="406.2" width="0.8" height="2.2" fill="#f05a7e"/>
<rect x="628.4" y="407.3" width="2" height="1.5" fill="#f05a7e"/>
<rect x="632.6" y="404.1" width="0.8" height="3.9" fill="#45c8a8"/>
<rect x="632.0" y="405.3" width="2" height="1.5" fill="#45c8a8"/>
<rect x="636.3" y="402.7" width="0.8" height="5.1" fill="#45c8a8"/>
<rect x="635.7" y="405.4" width="2" height="1.5" fill="#45c8a8"/>
<rect x="640.0" y="402.8" width="0.8" height="4.2" fill="#45c8a8"/>
<rect x="639.4" y="404.4" width="2" height="1.5" fill="#45c8a8"/>
<rect x="643.7" y="398.8" width="0.8" height="6.1" fill="#45c8a8"/>
<rect x="643.1" y="402.2" width="2" height="1.8" fill="#45c8a8"/>
<rect x="647.4" y="399.4" width="0.8" height="9.4" fill="#f05a7e"/>
<rect x="646.8" y="402.5" width="2" height="5.1" fill="#f05a7e"/>
<rect x="651.0" y="405.4" width="0.8" height="5.2" fill="#f05a7e"/>
<rect x="650.4" y="407.1" width="2" height="1.7" fill="#f05a7e"/>
<rect x="654.7" y="406.3" width="0.8" height="10.4" fill="#f05a7e"/>
<rect x="654.1" y="409.5" width="2" height="6.7" fill="#f05a7e"/>
<rect x="658.4" y="411.7" width="0.8" height="6.9" fill="#45c8a8"/>
<rect x="657.8" y="414.9" width="2" height="1.7" fill="#45c8a8"/>
<rect x="662.1" y="412.2" width="0.8" height="12.8" fill="#f05a7e"/>
<rect x="661.5" y="413.9" width="2" height="7.8" fill="#f05a7e"/>
<rect x="665.8" y="417.3" width="0.8" height="6.3" fill="#45c8a8"/>
<rect x="665.2" y="420.8" width="2" height="1.6" fill="#45c8a8"/>
<rect x="669.4" y="408.5" width="0.8" height="14.2" fill="#45c8a8"/>
<rect x="668.8" y="410.5" width="2" height="9.5" fill="#45c8a8"/>
<rect x="673.1" y="406.6" width="0.8" height="7.2" fill="#45c8a8"/>
<rect x="672.5" y="409.0" width="2" height="2.0" fill="#45c8a8"/>
<rect x="676.8" y="401.9" width="0.8" height="10.0" fill="#45c8a8"/>
<rect x="676.2" y="402.6" width="2" height="6.6" fill="#45c8a8"/>
<rect x="680.5" y="396.1" width="0.8" height="8.8" fill="#45c8a8"/>
<rect x="679.9" y="398.5" width="2" height="4.9" fill="#45c8a8"/>
<rect x="684.2" y="393.1" width="0.8" height="7.5" fill="#45c8a8"/>
<rect x="683.6" y="395.5" width="2" height="2.5" fill="#45c8a8"/>
<rect x="687.8" y="391.0" width="0.8" height="5.9" fill="#45c8a8"/>
<rect x="687.2" y="393.1" width="2" height="1.5" fill="#45c8a8"/>
<rect x="691.5" y="390.2" width="0.8" height="3.5" fill="#f05a7e"/>
<rect x="690.9" y="392.5" width="2" height="1.5" fill="#f05a7e"/>
<rect x="695.2" y="387.9" width="0.8" height="7.7" fill="#45c8a8"/>
<rect x="694.6" y="391.3" width="2" height="1.9" fill="#45c8a8"/>
<rect x="698.9" y="390.1" width="0.8" height="3.5" fill="#f05a7e"/>
<rect x="698.3" y="391.3" width="2" height="1.5" fill="#f05a7e"/>
<rect x="702.6" y="387.7" width="0.8" height="5.6" fill="#45c8a8"/>
<rect x="702.0" y="389.1" width="2" height="3.6" fill="#45c8a8"/>
<rect x="706.2" y="380.7" width="0.8" height="10.0" fill="#45c8a8"/>
<rect x="705.6" y="382.5" width="2" height="7.0" fill="#45c8a8"/>
<rect x="709.9" y="379.7" width="0.8" height="4.3" fill="#45c8a8"/>
<rect x="709.3" y="380.8" width="2" height="2.5" fill="#45c8a8"/>
<rect x="713.6" y="375.4" width="0.8" height="6.3" fill="#45c8a8"/>
<rect x="713.0" y="378.0" width="2" height="2.7" fill="#45c8a8"/>
<rect x="717.3" y="376.5" width="0.8" height="4.9" fill="#f05a7e"/>
<rect x="716.7" y="378.5" width="2" height="1.7" fill="#f05a7e"/>
<rect x="721.0" y="376.9" width="0.8" height="5.3" fill="#f05a7e"/>
<rect x="720.4" y="379.8" width="2" height="1.5" fill="#f05a7e"/>
<rect x="724.6" y="374.8" width="0.8" height="10.1" fill="#45c8a8"/>
<rect x="724.0" y="376.2" width="2" height="5.3" fill="#45c8a8"/>
<rect x="728.3" y="374.4" width="0.8" height="5.3" fill="#f05a7e"/>
<rect x="727.7" y="375.6" width="2" height="2.4" fill="#f05a7e"/>
<rect x="732.0" y="376.5" width="0.8" height="4.1" fill="#45c8a8"/>
<rect x="731.4" y="377.4" width="2" height="1.5" fill="#45c8a8"/>
<rect x="735.7" y="371.8" width="0.8" height="7.3" fill="#45c8a8"/>
<rect x="735.1" y="372.7" width="2" height="5.7" fill="#45c8a8"/>
<rect x="739.4" y="367.2" width="0.8" height="8.4" fill="#45c8a8"/>
<rect x="738.8" y="370.4" width="2" height="2.1" fill="#45c8a8"/>
<rect x="743.0" y="368.1" width="0.8" height="9.6" fill="#f05a7e"/>
<rect x="742.4" y="371.4" width="2" height="4.8" fill="#f05a7e"/>
<rect x="746.7" y="371.4" width="0.8" height="6.2" fill="#45c8a8"/>
<rect x="746.1" y="374.2" width="2" height="2.9" fill="#45c8a8"/>
<rect x="750.4" y="372.3" width="0.8" height="7.7" fill="#f05a7e"/>
<rect x="749.8" y="373.9" width="2" height="4.6" fill="#f05a7e"/>
<rect x="754.1" y="375.1" width="0.8" height="4.0" fill="#45c8a8"/>
<rect x="753.5" y="376.5" width="2" height="1.5" fill="#45c8a8"/>
<rect x="757.8" y="372.3" width="0.8" height="11.4" fill="#f05a7e"/>
<rect x="757.2" y="375.7" width="2" height="6.9" fill="#f05a7e"/>
<rect x="761.4" y="375.6" width="0.8" height="9.5" fill="#45c8a8"/>
<rect x="760.8" y="378.5" width="2" height="4.7" fill="#45c8a8"/>
<rect x="765.1" y="374.2" width="0.8" height="7.5" fill="#45c8a8"/>
<rect x="764.5" y="375.8" width="2" height="2.7" fill="#45c8a8"/>
<rect x="768.8" y="372.4" width="0.8" height="4.2" fill="#f05a7e"/>
<rect x="768.2" y="375.6" width="2" height="1.5" fill="#f05a7e"/>
<rect x="772.5" y="372.4" width="0.8" height="4.9" fill="#45c8a8"/>
<rect x="771.9" y="375.2" width="2" height="1.5" fill="#45c8a8"/>
<rect x="776.2" y="366.4" width="0.8" height="9.2" fill="#45c8a8"/>
<rect x="775.6" y="369.6" width="2" height="4.7" fill="#45c8a8"/>
<rect x="779.8" y="368.9" width="0.8" height="2.9" fill="#f05a7e"/>
<rect x="779.2" y="370.4" width="2" height="1.5" fill="#f05a7e"/>
<rect x="783.5" y="366.9" width="0.8" height="6.5" fill="#45c8a8"/>
<rect x="782.9" y="368.2" width="2" height="2.6" fill="#45c8a8"/>
<rect x="787.2" y="359.9" width="0.8" height="10.6" fill="#45c8a8"/>
<rect x="786.6" y="360.4" width="2" height="7.3" fill="#45c8a8"/>
<rect x="790.9" y="357.2" width="0.8" height="4.0" fill="#45c8a8"/>
<rect x="790.3" y="360.5" width="2" height="1.5" fill="#45c8a8"/>
<rect x="794.6" y="349.9" width="0.8" height="13.9" fill="#45c8a8"/>
<rect x="794.0" y="353.3" width="2" height="7.2" fill="#45c8a8"/>
<rect x="798.2" y="351.0" width="0.8" height="5.2" fill="#f05a7e"/>
<rect x="797.6" y="352.8" width="2" height="1.5" fill="#f05a7e"/>
<rect x="801.9" y="350.7" width="0.8" height="10.4" fill="#f05a7e"/>
<rect x="801.3" y="353.6" width="2" height="4.7" fill="#f05a7e"/>
<rect x="805.6" y="356.1" width="0.8" height="4.3" fill="#45c8a8"/>
<rect x="805.0" y="358.4" width="2" height="1.5" fill="#45c8a8"/>
<rect x="809.3" y="353.1" width="0.8" height="5.8" fill="#45c8a8"/>
<rect x="808.7" y="355.9" width="2" height="2.3" fill="#45c8a8"/>
<rect x="813.0" y="354.2" width="0.8" height="2.9" fill="#45c8a8"/>
<rect x="812.4" y="355.5" width="2" height="1.5" fill="#45c8a8"/>
<rect x="816.6" y="353.3" width="0.8" height="5.7" fill="#45c8a8"/>
<rect x="816.0" y="354.8" width="2" height="1.5" fill="#45c8a8"/>
<rect x="820.3" y="354.5" width="0.8" height="7.3" fill="#f05a7e"/>
<rect x="819.7" y="355.8" width="2" height="5.3" fill="#f05a7e"/>
<rect x="824.0" y="354.9" width="0.8" height="8.0" fill="#45c8a8"/>
<rect x="823.4" y="357.5" width="2" height="3.6" fill="#45c8a8"/>
<rect x="827.7" y="355.0" width="0.8" height="7.4" fill="#f05a7e"/>
<rect x="827.1" y="357.3" width="2" height="2.5" fill="#f05a7e"/>
<rect x="831.4" y="358.1" width="0.8" height="5.6" fill="#f05a7e"/>
<rect x="830.8" y="360.6" width="2" height="2.2" fill="#f05a7e"/>
<rect x="835.0" y="360.1" width="0.8" height="3.9" fill="#45c8a8"/>
<rect x="834.4" y="362.3" width="2" height="1.5" fill="#45c8a8"/>
<rect x="838.7" y="359.3" width="0.8" height="3.6" fill="#45c8a8"/>
<rect x="838.1" y="360.5" width="2" height="1.5" fill="#45c8a8"/>
<rect x="842.4" y="353.8" width="0.8" height="9.0" fill="#45c8a8"/>
<rect x="841.8" y="356.1" width="2" height="5.3" fill="#45c8a8"/>
<rect x="846.1" y="354.8" width="0.8" height="3.4" fill="#45c8a8"/>
<rect x="845.5" y="356.9" width="2" height="1.5" fill="#45c8a8"/>
<rect x="849.8" y="353.7" width="0.8" height="6.2" fill="#f05a7e"/>
<rect x="849.2" y="357.2" width="2" height="1.9" fill="#f05a7e"/>
<rect x="853.4" y="354.3" width="0.8" height="8.7" fill="#45c8a8"/>
<rect x="852.8" y="357.3" width="2" height="2.4" fill="#45c8a8"/>
<rect x="857.1" y="354.0" width="0.8" height="3.9" fill="#45c8a8"/>
<rect x="856.5" y="354.9" width="2" height="2.0" fill="#45c8a8"/>
<rect x="860.8" y="351.8" width="0.8" height="11.4" fill="#f05a7e"/>
<rect x="860.2" y="355.1" width="2" height="6.5" fill="#f05a7e"/>
<rect x="864.5" y="360.2" width="0.8" height="4.5" fill="#f05a7e"/>
<rect x="863.9" y="361.4" width="2" height="1.5" fill="#f05a7e"/>
<rect x="868.2" y="358.7" width="0.8" height="6.9" fill="#f05a7e"/>
<rect x="867.6" y="361.0" width="2" height="2.3" fill="#f05a7e"/>
<rect x="871.8" y="358.8" width="0.8" height="5.3" fill="#45c8a8"/>
<rect x="871.2" y="359.7" width="2" height="3.3" fill="#45c8a8"/>
<rect x="875.5" y="357.5" width="0.8" height="4.7" fill="#f05a7e"/>
<rect x="874.9" y="359.9" width="2" height="1.5" fill="#f05a7e"/>
<rect x="879.2" y="357.0" width="0.8" height="4.8" fill="#45c8a8"/>
<rect x="878.6" y="359.5" width="2" height="1.5" fill="#45c8a8"/>
<rect x="882.9" y="356.0" width="0.8" height="7.0" fill="#f05a7e"/>
<rect x="882.3" y="358.9" width="2" height="2.0" fill="#f05a7e"/>
<rect x="886.6" y="356.4" width="0.8" height="5.9" fill="#45c8a8"/>
<rect x="886.0" y="358.1" width="2" height="2.0" fill="#45c8a8"/>
<rect x="890.2" y="356.3" width="0.8" height="6.6" fill="#f05a7e"/>
<rect x="889.6" y="357.3" width="2" height="3.0" fill="#f05a7e"/>
<rect x="893.9" y="356.0" width="0.8" height="7.2" fill="#45c8a8"/>
<rect x="893.3" y="357.4" width="2" height="2.5" fill="#45c8a8"/>
<rect x="897.6" y="354.8" width="0.8" height="4.4" fill="#45c8a8"/>
<rect x="897.0" y="356.4" width="2" height="1.5" fill="#45c8a8"/>
<rect x="901.3" y="355.8" width="0.8" height="4.9" fill="#f05a7e"/>
<rect x="900.7" y="357.4" width="2" height="2.2" fill="#f05a7e"/>
<rect x="905.0" y="357.9" width="0.8" height="4.2" fill="#45c8a8"/>
<rect x="904.4" y="358.5" width="2" height="1.5" fill="#45c8a8"/>
<rect x="908.6" y="354.8" width="0.8" height="7.5" fill="#45c8a8"/>
<rect x="908.0" y="356.5" width="2" height="2.6" fill="#45c8a8"/>
<rect x="912.3" y="355.2" width="0.8" height="2.8" fill="#45c8a8"/>
<rect x="911.7" y="355.8" width="2" height="1.5" fill="#45c8a8"/>
<rect x="916.0" y="353.9" width="0.8" height="5.1" fill="#45c8a8"/>
<rect x="915.4" y="354.6" width="2" height="2.0" fill="#45c8a8"/>
<rect x="919.7" y="349.2" width="0.8" height="6.8" fill="#45c8a8"/>
<rect x="919.1" y="350.1" width="2" height="4.5" fill="#45c8a8"/>
<rect x="923.4" y="345.9" width="0.8" height="7.0" fill="#45c8a8"/>
<rect x="922.8" y="346.8" width="2" height="4.2" fill="#45c8a8"/>
<rect x="927.0" y="346.6" width="0.8" height="4.1" fill="#f05a7e"/>
<rect x="926.4" y="347.7" width="2" height="2.1" fill="#f05a7e"/>
<rect x="930.7" y="348.8" width="0.8" height="8.6" fill="#f05a7e"/>
<rect x="930.1" y="350.8" width="2" height="6.0" fill="#f05a7e"/>
<rect x="934.4" y="353.3" width="0.8" height="12.4" fill="#f05a7e"/>
<rect x="933.8" y="356.5" width="2" height="6.8" fill="#f05a7e"/>
<rect x="938.1" y="359.8" width="0.8" height="7.7" fill="#f05a7e"/>
<rect x="937.5" y="362.7" width="2" height="3.7" fill="#f05a7e"/>
<rect x="941.8" y="364.1" width="0.8" height="5.5" fill="#f05a7e"/>
<rect x="941.2" y="367.1" width="2" height="1.5" fill="#f05a7e"/>
<rect x="945.4" y="366.3" width="0.8" height="8.2" fill="#f05a7e"/>
<rect x="944.8" y="368.4" width="2" height="4.5" fill="#f05a7e"/>
<rect x="949.1" y="369.7" width="0.8" height="11.4" fill="#f05a7e"/>
<rect x="948.5" y="372.4" width="2" height="5.6" fill="#f05a7e"/>
<rect x="952.8" y="375.3" width="0.8" height="6.4" fill="#f05a7e"/>
<rect x="952.2" y="378.1" width="2" height="3.0" fill="#f05a7e"/>
<rect x="956.5" y="378.0" width="0.8" height="10.2" fill="#f05a7e"/>
<rect x="955.9" y="380.3" width="2" height="5.7" fill="#f05a7e"/>
<rect x="960.2" y="383.5" width="0.8" height="4.5" fill="#45c8a8"/>
<rect x="959.6" y="385.2" width="2" height="1.5" fill="#45c8a8"/>
<rect x="963.8" y="383.7" width="0.8" height="5.7" fill="#f05a7e"/>
<rect x="963.2" y="385.5" width="2" height="2.1" fill="#f05a7e"/>
<rect x="967.5" y="385.9" width="0.8" height="3.3" fill="#f05a7e"/>
<rect x="966.9" y="387.8" width="2" height="1.5" fill="#f05a7e"/>
<rect x="971.2" y="386.6" width="0.8" height="9.5" fill="#f05a7e"/>
<rect x="970.6" y="388.5" width="2" height="6.6" fill="#f05a7e"/>
<rect x="974.9" y="393.5" width="0.8" height="4.3" fill="#f05a7e"/>
<rect x="974.3" y="394.4" width="2" height="1.6" fill="#f05a7e"/>
<rect x="978.6" y="393.8" width="0.8" height="4.0" fill="#f05a7e"/>
<rect x="978.0" y="395.8" width="2" height="1.5" fill="#f05a7e"/>
<rect x="982.2" y="393.7" width="0.8" height="13.5" fill="#f05a7e"/>
<rect x="981.6" y="396.4" width="2" height="8.0" fill="#f05a7e"/>
<rect x="985.9" y="401.4" width="0.8" height="5.3" fill="#f05a7e"/>
<rect x="985.3" y="403.5" width="2" height="1.6" fill="#f05a7e"/>
<rect x="989.6" y="401.3" width="0.8" height="10.6" fill="#f05a7e"/>
<rect x="989.0" y="404.3" width="2" height="4.0" fill="#f05a7e"/>
<rect x="993.3" y="407.9" width="0.8" height="4.7" fill="#f05a7e"/>
<rect x="992.7" y="409.0" width="2" height="1.5" fill="#f05a7e"/>
<rect x="997.0" y="406.9" width="0.8" height="6.6" fill="#f05a7e"/>
<rect x="996.4" y="410.1" width="2" height="2.3" fill="#f05a7e"/>
<rect x="1000.6" y="412.6" width="0.8" height="7.0" fill="#f05a7e"/>
<rect x="1000.0" y="413.3" width="2" height="4.7" fill="#f05a7e"/>
<rect x="1004.3" y="414.1" width="0.8" height="7.3" fill="#f05a7e"/>
<rect x="1003.7" y="417.3" width="2" height="2.8" fill="#f05a7e"/>
<rect x="1008.0" y="417.4" width="0.8" height="7.5" fill="#f05a7e"/>
<rect x="1007.4" y="419.4" width="2" height="2.3" fill="#f05a7e"/>
<rect x="1011.7" y="414.7" width="0.8" height="7.9" fill="#45c8a8"/>
<rect x="1011.1" y="416.7" width="2" height="4.5" fill="#45c8a8"/>
<rect x="1015.4" y="413.6" width="0.8" height="5.8" fill="#45c8a8"/>
<rect x="1014.8" y="414.6" width="2" height="1.5" fill="#45c8a8"/>
<rect x="1019.0" y="414.3" width="0.8" height="6.1" fill="#f05a7e"/>
<rect x="1018.4" y="415.3" width="2" height="2.2" fill="#f05a7e"/>
<rect x="1022.7" y="410.4" width="0.8" height="8.8" fill="#45c8a8"/>
<rect x="1022.1" y="412.8" width="2" height="4.8" fill="#45c8a8"/>
<rect x="1026.4" y="410.7" width="0.8" height="10.9" fill="#f05a7e"/>
<rect x="1025.8" y="413.0" width="2" height="5.6" fill="#f05a7e"/>
<rect x="1030.1" y="412.8" width="0.8" height="8.4" fill="#45c8a8"/>
<rect x="1029.5" y="415.2" width="2" height="4.3" fill="#45c8a8"/>
<rect x="1033.8" y="411.2" width="0.8" height="11.7" fill="#f05a7e"/>
<rect x="1033.2" y="414.7" width="2" height="5.9" fill="#f05a7e"/>
<rect x="1037.4" y="416.9" width="0.8" height="5.3" fill="#45c8a8"/>
<rect x="1036.8" y="418.8" width="2" height="2.4" fill="#45c8a8"/>
<rect x="1041.1" y="414.9" width="0.8" height="7.9" fill="#f05a7e"/>
<rect x="1040.5" y="417.9" width="2" height="3.7" fill="#f05a7e"/>
<rect x="1044.8" y="418.6" width="0.8" height="6.4" fill="#45c8a8"/>
<rect x="1044.2" y="420.9" width="2" height="1.6" fill="#45c8a8"/>
<rect x="1048.5" y="417.7" width="0.8" height="3.1" fill="#45c8a8"/>
<rect x="1047.9" y="418.3" width="2" height="1.6" fill="#45c8a8"/>
<rect x="1052.2" y="416.1" width="0.8" height="6.3" fill="#f05a7e"/>
<rect x="1051.6" y="418.2" width="2" height="1.5" fill="#f05a7e"/>
<rect x="1055.8" y="413.8" width="0.8" height="5.4" fill="#45c8a8"/>
<rect x="1055.2" y="416.2" width="2" height="2.4" fill="#45c8a8"/>
<rect x="1059.5" y="415.1" width="0.8" height="2.9" fill="#f05a7e"/>
<rect x="1058.9" y="415.9" width="2" height="1.5" fill="#f05a7e"/>
<rect x="1063.2" y="414.4" width="0.8" height="5.6" fill="#f05a7e"/>
<rect x="1062.6" y="416.6" width="2" height="2.2" fill="#f05a7e"/>
<rect x="1066.9" y="417.9" width="0.8" height="7.7" fill="#f05a7e"/>
<rect x="1066.3" y="418.8" width="2" height="3.5" fill="#f05a7e"/>
<rect x="1070.6" y="420.8" width="0.8" height="4.1" fill="#f05a7e"/>
<rect x="1070.0" y="421.6" width="2" height="1.5" fill="#f05a7e"/>
<rect x="1074.2" y="421.4" width="0.8" height="10.5" fill="#f05a7e"/>
<rect x="1073.6" y="423.1" width="2" height="7.5" fill="#f05a7e"/>
<rect x="1077.9" y="424.4" width="0.8" height="8.1" fill="#45c8a8"/>
<rect x="1077.3" y="426.5" width="2" height="4.3" fill="#45c8a8"/>
<rect x="1081.6" y="423.1" width="0.8" height="12.2" fill="#f05a7e"/>
<rect x="1081.0" y="426.4" width="2" height="6.2" fill="#f05a7e"/>
<rect x="1085.3" y="424.2" width="0.8" height="11.4" fill="#45c8a8"/>
<rect x="1084.7" y="424.8" width="2" height="8.6" fill="#45c8a8"/>
<rect x="1089.0" y="412.1" width="0.8" height="15.0" fill="#45c8a8"/>
<rect x="1088.4" y="412.8" width="2" height="11.5" fill="#45c8a8"/>
<rect x="1092.6" y="399.3" width="0.8" height="14.5" fill="#45c8a8"/>
<rect x="1092.0" y="402.6" width="2" height="10.3" fill="#45c8a8"/>
<rect x="1096.3" y="397.9" width="0.8" height="7.3" fill="#45c8a8"/>
<rect x="1095.7" y="399.9" width="2" height="2.9" fill="#45c8a8"/>
<rect x="1100.0" y="397.9" width="0.8" height="6.5" fill="#f05a7e"/>
<rect x="1099.4" y="399.3" width="2" height="3.7" fill="#f05a7e"/>
<rect x="1103.7" y="394.3" width="0.8" height="12.1" fill="#45c8a8"/>
<rect x="1103.1" y="397.1" width="2" height="6.6" fill="#45c8a8"/>
<rect x="1107.4" y="392.6" width="0.8" height="7.2" fill="#45c8a8"/>
<rect x="1106.8" y="395.3" width="2" height="2.5" fill="#45c8a8"/>
<rect x="1111.0" y="394.0" width="0.8" height="5.2" fill="#f05a7e"/>
<rect x="1110.4" y="395.2" width="2" height="3.2" fill="#f05a7e"/>
<rect x="1114.7" y="391.8" width="0.8" height="8.4" fill="#45c8a8"/>
<rect x="1114.1" y="393.3" width="2" height="4.2" fill="#45c8a8"/>
<rect x="1118.4" y="391.4" width="0.8" height="4.4" fill="#f05a7e"/>
<rect x="1117.8" y="394.0" width="2" height="1.5" fill="#f05a7e"/>
<rect x="1122.1" y="387.7" width="0.8" height="8.7" fill="#45c8a8"/>
<rect x="1121.5" y="390.6" width="2" height="3.7" fill="#45c8a8"/>
<rect x="1125.8" y="383.1" width="0.8" height="8.9" fill="#45c8a8"/>
<rect x="1125.2" y="386.5" width="2" height="4.4" fill="#45c8a8"/>
</svg>
<div class="abs ylab" style="top:129.5px">123793</div>
<div class="abs ylab" style="top:212.6px">122000</div>
<div class="abs ylab" style="top:304.8px">120000</div>
<div class="abs ylab" style="top:397.0px">118000</div>
<div class="abs ylab" style="top:489.2px">116000</div>
<div class="abs ylab" style="top:581.4px">114000</div>
<div class="abs ylab" style="top:642.3px">112662</div>
<div class="abs xlab" style="left:69.5px">23. 11:00</div>
<div class="abs xlab" style="left:124.7px">23. 12:15</div>
<div class="abs xlab" style="left:179.9px">23. 13:30</div>
<div class="abs xlab" style="left:235.1px">23. 14:45</div>
<div class="abs xlab" style="left:290.3px">23. 16:00</div>
<div class="abs xlab" style="left:345.5px">23. 17:15</div>
<div class="abs xlab" style="left:400.7px">23. 18:30</div>
<div class="abs xlab" style="left:455.9px">23. 19:45</div>
<div class="abs xlab" style="left:511.1px">23. 21:00</div>
<div class="abs xlab" style="left:566.3px">23. 22:15</div>
<div class="abs xlab" style="left:621.5px">23. 23:30</div>
<div class="abs xlab" style="left:676.7px">24. 00:45</div>
<div class="abs xlab" style="left:731.9px">24. 02:00</div>
<div class="abs xlab" style="left:787.1px">24. 03:15</div>
<div class="abs xlab" style="left:842.3px">24. 04:30</div>
<div class="abs xlab" style="left:897.5px">24. 05:45</div>
<div class="abs xlab" style="left:952.7px">24. 07:00</div>
<div class="abs xlab" style="left:1007.9px">24. 08:15</div>
<div class="abs xlab" style="left:1063.1px">24. 09:30</div>
<div class="abs xlab" style="left:1118.3px">24. 10:45</div>
<svg class="abs" style="left:0;top:0" width="1200" height="715"><rect x="66" y="665" width="1064" height="44" fill="#edeff6"/><polygon points="68,707 68,683.4 71,681.6 74,680.9 77,680.4 80,680.6 83,682.1 86,683.3 89,683.2 92,683.9 95,683.7 98,683.7 101,684.5 104,684.1 107,683.5 110,682.8 113,683.3 116,683.4 119,684.9 122,685.4 125,686.0 128,686.1 131,686.9 134,687.4 137,687.8 140,687.2 143,687.0 146,686.2 149,687.2 152,686.7 155,686.8 158,687.5 161,688.8 164,689.2 167,690.9 170,689.1 173,686.5 176,686.1 179,685.4 182,685.1 185,684.8 188,684.0 191,684.3 194,683.9 197,684.0 200,683.7 203,683.8 206,683.0 209,684.4 212,686.5 215,681.6 218,679.9 221,679.4 224,679.6 227,679.7 230,680.7 233,680.8 236,680.7 239,680.9 242,680.8 245,680.6 248,680.9 251,681.4 254,681.4 257,679.8 260,679.7 263,680.1 266,680.2 269,680.9 272,681.5 275,683.1 278,684.2 281,685.7 284,687.9 287,688.5 290,689.5 293,689.5 296,689.2 299,689.7 302,689.8 305,690.1 308,689.8 311,690.3 314,690.9 317,691.3 320,693.7 323,694.8 326,696.4 329,696.2 332,695.5 335,694.9 338,693.9 341,693.0 344,691.0 347,690.7 350,690.2 353,690.3 356,690.0 359,690.6 362,690.6 365,691.2 368,690.8 371,690.1 374,688.2 377,688.3 380,689.5 383,690.0 386,690.1 389,691.0 392,690.0 395,689.7 398,688.7 401,687.9 404,687.0 407,686.3 410,686.0 413,685.4 416,685.3 419,681.2 422,682.3 425,683.8 428,686.2 431,688.3 434,690.4 437,691.4 440,692.2 443,693.5 446,693.6 449,694.6 452,694.9 455,695.1 458,695.2 461,695.4 464,695.4 467,696.0 470,696.6 473,698.0 476,698.4 479,698.4 482,696.3 485,695.3 488,694.9 491,694.0 494,693.1 497,693.0 500,692.9 503,691.0 506,689.7 509,688.6 512,688.0 515,687.2 518,686.4 521,686.3 524,686.3 527,686.1 530,685.9 533,685.3 536,685.0 539,684.1 542,684.2 545,683.3 548,682.7 551,683.5 554,682.7 557,683.0 560,683.7 563,683.6 566,683.7 569,683.5 572,683.3 575,683.8 578,683.4 581,683.5 584,683.4 587,682.9 590,683.0 593,683.2 596,683.0 599,682.7 602,682.8 605,682.6 608,682.4 611,683.3 614,684.5 617,686.3 620,689.4 623,691.0 626,691.1 629,691.3 632,690.6 635,690.0 638,690.1 641,690.2 644,690.1 647,690.6 650,691.6 653,692.3 656,693.2 659,694.3 662,696.2 665,695.7 668,694.5 671,692.6 674,690.9 677,689.6 680,688.7 683,687.5 686,687.0 689,686.3 692,685.9 695,685.3 698,685.1 701,684.2 704,682.4 707,681.7 710,680.7 713,680.1 716,679.9 719,680.1 722,679.2 725,679.7 728,679.3 731,679.7 734,679.3 737,678.3 740,677.4 743,678.3 746,678.7 749,679.3 752,679.5 755,680.0 758,680.5 761,680.3 764,680.0 767,680.3 770,679.4 773,679.1 776,678.0 779,677.2 782,675.5 785,675.1 788,673.4 791,672.0 794,671.1 797,670.8 800,670.5 803,671.1 806,671.3 809,671.8 812,671.6 815,671.6 818,671.7 821,672.4 824,673.0 827,673.1 830,673.3 833,673.5 836,672.8 839,672.3 842,671.9 845,672.3 848,672.1 851,671.8 854,671.8 857,672.0 860,671.8 863,672.7 866,672.5 869,673.0 872,673.5 875,673.9 878,673.9 881,673.6 884,673.7 887,672.9 890,673.1 893,672.2 896,672.3 899,671.7 902,671.7 905,671.4 908,671.6 911,671.4 914,670.7 917,670.7 920,669.6 923,668.2 926,666.9 929,668.5 932,670.5 935,672.9 938,674.1 941,675.1 944,677.2 947,678.9 950,680.0 953,681.8 956,682.5 959,682.0 962,682.0 965,683.7 968,684.5 971,684.7 974,685.4 977,687.3 980,688.1 983,688.9 986,689.5 989,689.6 992,690.1 995,691.3 998,692.5 1001,693.6 1004,695.0 1007,695.6 1010,695.1 1013,695.4 1016,694.8 1019,694.6 1022,694.2 1025,694.1 1028,694.5 1031,695.0 1034,694.8 1037,695.5 1040,695.6 1043,695.8 1046,695.5 1049,695.8 1052,695.2 1055,694.6 1058,694.9 1061,695.2 1064,695.8 1067,695.7 1070,696.3 1073,697.4 1076,698.8 1079,699.2 1082,699.9 1085,700.9 1088,695.2 1091,692.5 1094,690.1 1097,688.8 1100,688.6 1103,688.5 1106,687.7 1109,687.3 1112,687.3 1115,685.9 1118,685.8 1121,685.1 1124,683.6 1127,683.5 1128,707" fill="#dcdcf4"/><polyline points="68,683.4 71,681.6 74,680.9 77,680.4 80,680.6 83,682.1 86,683.3 89,683.2 92,683.9 95,683.7 98,683.7 101,684.5 104,684.1 107,683.5 110,682.8 113,683.3 116,683.4 119,684.9 122,685.4 125,686.0 128,686.1 131,686.9 134,687.4 137,687.8 140,687.2 143,687.0 146,686.2 149,687.2 152,686.7 155,686.8 158,687.5 161,688.8 164,689.2 167,690.9 170,689.1 173,686.5 176,686.1 179,685.4 182,685.1 185,684.8 188,684.0 191,684.3 194,683.9 197,684.0 200,683.7 203,683.8 206,683.0 209,684.4 212,686.5 215,681.6 218,679.9 221,679.4 224,679.6 227,679.7 230,680.7 233,680.8 236,680.7 239,680.9 242,680.8 245,680.6 248,680.9 251,681.4 254,681.4 257,679.8 260,679.7 263,680.1 266,680.2 269,680.9 272,681.5 275,683.1 278,684.2 281,685.7 284,687.9 287,688.5 290,689.5 293,689.5 296,689.2 299,689.7 302,689.8 305,690.1 308,689.8 311,690.3 314,690.9 317,691.3 320,693.7 323,694.8 326,696.4 329,696.2 332,695.5 335,694.9 338,693.9 341,693.0 344,691.0 347,690.7 350,690.2 353,690.3 356,690.0 359,690.6 362,690.6 365,691.2 368,690.8 371,690.1 374,688.2 377,688.3 380,689.5 383,690.0 386,690.1 389,691.0 392,690.0 395,689.7 398,688.7 401,687.9 404,687.0 407,686.3 410,686.0 413,685.4 416,685.3 419,681.2 422,682.3 425,683.8 428,686.2 431,688.3 434,690.4 437,691.4 440,692.2 443,693.5 446,693.6 449,694.6 452,694.9 455,695.1 458,695.2 461,695.4 464,695.4 467,696.0 470,696.6 473,698.0 476,698.4 479,698.4 482,696.3 485,695.3 488,694.9 491,694.0 494,693.1 497,693.0 500,692.9 503,691.0 506,689.7 509,688.6 512,688.0 515,687.2 518,686.4 521,686.3 524,686.3 527,686.1 530,685.9 533,685.3 536,685.0 539,684.1 542,684.2 545,683.3 548,682.7 551,683.5 554,682.7 557,683.0 560,683.7 563,683.6 566,683.7 569,683.5 572,683.3 575,683.8 578,683.4 581,683.5 584,683.4 587,682.9 590,683.0 593,683.2 596,683.0 599,682.7 602,682.8 605,682.6 608,682.4 611,683.3 614,684.5 617,686.3 620,689.4 623,691.0 626,691.1 629,691.3 632,690.6 635,690.0 638,690.1 641,690.2 644,690.1 647,690.6 650,691.6 653,692.3 656,693.2 659,694.3 662,696.2 665,695.7 668,694.5 671,692.6 674,690.9 677,689.6 680,688.7 683,687.5 686,687.0 689,686.3 692,685.9 695,685.3 698,685.1 701,684.2 704,682.4 707,681.7 710,680.7 713,680.1 716,679.9 719,680.1 722,679.2 725,679.7 728,679.3 731,679.7 734,679.3 737,678.3 740,677.4 743,678.3 746,678.7 749,679.3 752,679.5 755,680.0 758,680.5 761,680.3 764,680.0 767,680.3 770,679.4 773,679.1 776,678.0 779,677.2 782,675.5 785,675.1 788,673.4 791,672.0 794,671.1 797,670.8 800,670.5 803,671.1 806,671.3 809,671.8 812,671.6 815,671.6 818,671.7 821,672.4 824,673.0 827,673.1 830,673.3 833,673.5 836,672.8 839,672.3 842,671.9 845,672.3 848,672.1 851,671.8 854,671.8 857,672.0 860,671.8 863,672.7 866,672.5 869,673.0 872,673.5 875,673.9 878,673.9 881,673.6 884,673.7 887,672.9 890,673.1 893,672.2 896,672.3 899,671.7 902,671.7 905,671.4 908,671.6 911,671.4 914,670.7 917,670.7 920,669.6 923,668.2 926,666.9 929,668.5 932,670.5 935,672.9 938,674.1 941,675.1 944,677.2 947,678.9 950,680.0 953,681.8 956,682.5 959,682.0 962,682.0 965,683.7 968,684.5 971,684.7 974,685.4 977,687.3 980,688.1 983,688.9 986,689.5 989,689.6 992,690.1 995,691.3 998,692.5 1001,693.6 1004,695.0 1007,695.6 1010,695.1 1013,695.4 1016,694.8 1019,694.6 1022,694.2 1025,694.1 1028,694.5 1031,695.0 1034,694.8 1037,695.5 1040,695.6 1043,695.8 1046,695.5 1049,695.8 1052,695.2 1055,694.6 1058,694.9 1061,695.2 1064,695.8 1067,695.7 1070,696.3 1073,697.4 1076,698.8 1079,699.2 1082,699.9 1085,700.9 1088,695.2 1091,692.5 1094,690.1 1097,688.8 1100,688.6 1103,688.5 1106,687.7 1109,687.3 1112,687.3 1115,685.9 1118,685.8 1121,685.1 1124,683.6 1127,683.5" fill="none" stroke="#d2d2ec" stroke-width="1"/><rect x="66" y="676" width="9" height="17" rx="3.5" fill="#3a3d48"/><rect x="69.5" y="680" width="2" height="9" fill="#9a9aa5"/><rect x="1125" y="677" width="9" height="16" rx="3.5" fill="#3a3d48"/><rect x="1128.5" y="681" width="2" height="8" fill="#9a9aa5"/></svg>
<svg class="abs" style="left:0;top:0" width="1200" height="715"><path d="M1033 612 Q1041 606 1049 612 L1048 622 Q1046 626 1044 626 L1044 629 L1039 629 L1039 626 Q1036 626 1035 622 Z" fill="#c8c8d0" opacity="0.7"/><text x="1056" y="623" font-family="Liberation Sans" font-weight="bold" font-size="14.5" fill="#c5d2da" opacity="0.75" textLength="64" lengthAdjust="spacingAndGlyphs">coinglass</text></svg>
</body></html>
